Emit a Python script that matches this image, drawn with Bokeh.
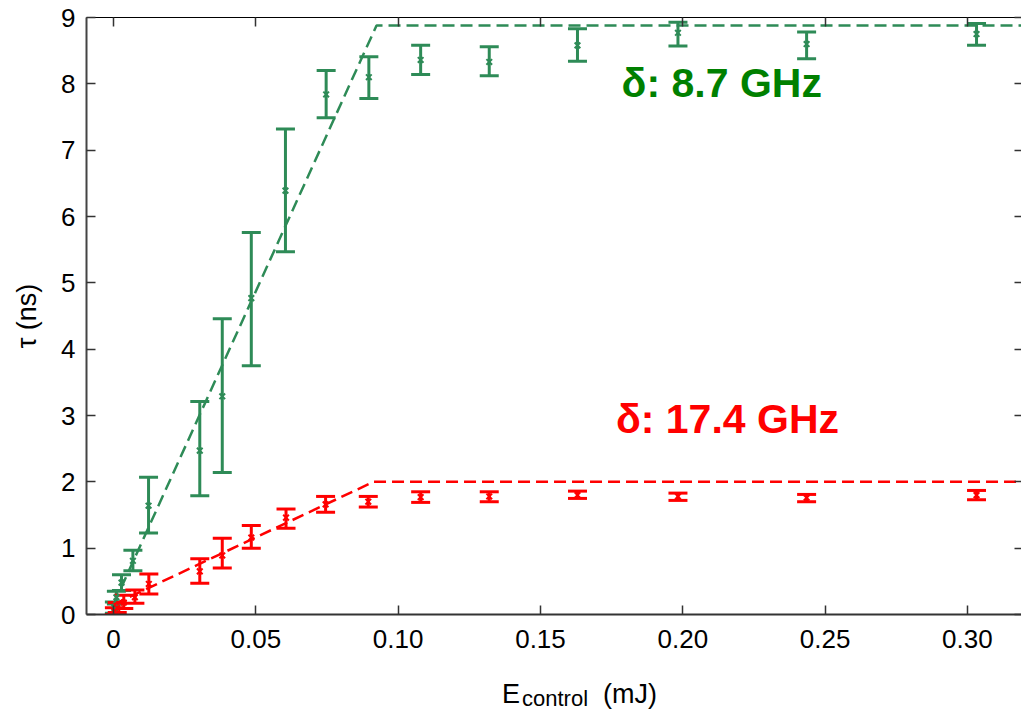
from bokeh.plotting import figure
from bokeh.models import (ColumnDataSource, Whisker, TeeHead, LinearAxis, FixedTicker,
                          Range1d, Label, Div)
from bokeh.layouts import column
from bokeh.embed import file_html
from bokeh.resources import INLINE

# ---- data ----
green_x = [0.0003, 0.0010, 0.0028, 0.0068, 0.0123, 0.0303, 0.0382, 0.0484, 0.0604,
           0.0747, 0.0897, 0.1079, 0.1320, 0.1630, 0.1983, 0.2435, 0.3032]
green_y = [0.10, 0.26, 0.48, 0.81, 1.64, 2.47, 3.29, 4.77, 6.39,
           7.84, 8.10, 8.36, 8.33, 8.58, 8.77, 8.60, 8.75]
green_lo = [0.02, 0.16, 0.36, 0.66, 1.23, 1.79, 2.14, 3.75, 5.47,
            7.49, 7.78, 8.14, 8.12, 8.34, 8.57, 8.38, 8.58]
green_hi = [0.19, 0.35, 0.60, 0.97, 2.07, 3.21, 4.46, 5.76, 7.32,
            8.20, 8.41, 8.58, 8.56, 8.83, 8.93, 8.78, 8.91]

red_x = [0.0003, 0.0013, 0.0036, 0.0075, 0.0124, 0.0303, 0.0382, 0.0484, 0.0606,
         0.0745, 0.0895, 0.1079, 0.1320, 0.1630, 0.1983, 0.2435, 0.3032]
red_y = [0.05, 0.10, 0.18, 0.26, 0.46, 0.65, 0.89, 1.16, 1.46,
         1.66, 1.70, 1.77, 1.78, 1.80, 1.78, 1.76, 1.80]
red_lo = [0.00, 0.03, 0.09, 0.17, 0.31, 0.47, 0.70, 1.00, 1.30,
          1.54, 1.62, 1.69, 1.70, 1.75, 1.72, 1.70, 1.73]
red_hi = [0.10, 0.18, 0.29, 0.37, 0.61, 0.84, 1.15, 1.34, 1.59,
          1.78, 1.78, 1.85, 1.85, 1.86, 1.83, 1.81, 1.87]

green_fit_x = [0.0, 0.0924, 0.32]
green_fit_y = [0.15, 8.88, 8.88]
red_fit_x = [0.0, 0.0913, 0.32]
red_fit_y = [0.15, 2.00, 2.00]

x_ticks = [0, 0.05, 0.10, 0.15, 0.20, 0.25, 0.30]
x_tick_labels = ["0", "0.05", "0.10", "0.15", "0.20", "0.25", "0.30"]
y_ticks = [0, 1, 2, 3, 4, 5, 6, 7, 8, 9]

label_green = "δ: 8.7 GHz"
label_red = "δ: 17.4 GHz"
x_label_main = "E"
x_label_sub = "control"
x_label_unit = "(mJ)"

GREEN = "#2e8b57"
RED = "#ff0000"
TICK_FONT = "Liberation Sans Narrow, Liberation Sans, Arial, sans-serif"
FONT = "Liberation Sans, Arial, sans-serif"

p = figure(frame_width=935, frame_height=597, output_backend="svg", toolbar_location=None,
           x_range=Range1d(-0.0095, 0.319), y_range=Range1d(0, 9),
           x_axis_location=None, y_axis_location=None,
           min_border_left=86, min_border_right=0, min_border_top=17, min_border_bottom=50)
p.outline_line_color = None
p.xgrid.visible = False
p.ygrid.visible = False
p.background_fill_color = "white"
p.border_fill_color = "white"


def style_axis(ax, line_color, line_width):
    ax.axis_line_color = line_color
    ax.axis_line_width = line_width
    ax.major_tick_in = 9
    ax.major_tick_out = 0
    ax.major_tick_line_color = "#333333"
    ax.major_tick_line_width = 1.5
    ax.minor_tick_line_color = None
    ax.major_label_text_font = TICK_FONT
    ax.major_label_text_font_size = "26px"
    ax.major_label_text_color = "black"


xlab = {t: l for t, l in zip(x_ticks, x_tick_labels)}

bottom = LinearAxis(ticker=FixedTicker(ticks=x_ticks), major_label_overrides=xlab)
style_axis(bottom, "#333333", 2)
bottom.major_label_standoff = 15
p.add_layout(bottom, "below")

top = LinearAxis(ticker=FixedTicker(ticks=x_ticks),
                 major_label_overrides={t: "" for t in x_ticks})
style_axis(top, "black", 1.2)
top.major_label_standoff = 0
p.add_layout(top, "above")

left = LinearAxis(ticker=FixedTicker(ticks=y_ticks), axis_label="τ (ns)")
style_axis(left, "#444444", 2)
left.major_label_standoff = 11
left.axis_label_text_font = FONT
left.axis_label_text_font_size = "27px"
left.axis_label_text_font_style = "normal"
left.axis_label_text_color = "black"
left.axis_label_standoff = 16
p.add_layout(left, "left")

right = LinearAxis(ticker=FixedTicker(ticks=y_ticks),
                   major_label_overrides={t: "" for t in y_ticks})
style_axis(right, None, 1)
right.major_tick_in = 7
right.major_label_standoff = 0
p.add_layout(right, "right")

# fit lines
p.line(green_fit_x, green_fit_y, line_color=GREEN, line_width=2.5, line_dash="12 6")
p.line(red_fit_x, red_fit_y, line_color=RED, line_width=2.5, line_dash="12 6")

for xs, ys, lo, hi, col in [(green_x, green_y, green_lo, green_hi, GREEN),
                            (red_x, red_y, red_lo, red_hi, RED)]:
    src = ColumnDataSource(dict(x=xs, y=ys, lo=lo, hi=hi))
    w = Whisker(base="x", lower="lo", upper="hi", source=src, dimension="height",
                line_color=col, line_width=3,
                upper_head=TeeHead(size=19, line_color=col, line_width=3),
                lower_head=TeeHead(size=19, line_color=col, line_width=3))
    p.add_layout(w)
    p.scatter("x", "y", source=src, marker="x", size=8, line_width=2, line_color=col)

p.add_layout(Label(x=0.1785, y=7.67, text=label_green, text_font=FONT,
                   text_font_size="41px", text_font_style="bold", text_color="#008000"))
p.add_layout(Label(x=0.1765, y=2.60, text=label_red, text_font=FONT,
                   text_font_size="41px", text_font_style="bold", text_color=RED))

# x-axis label with subscript (HTML text)
xlabel_html = (
    '<div style="font-family:\'Liberation Sans\',Arial,sans-serif;font-size:27px;'
    'line-height:31px;color:black;white-space:nowrap">'
    + x_label_main
    + '<span style="font-size:22px;position:relative;top:3px;margin-left:2px">'
    + x_label_sub + '</span>&nbsp;&nbsp;' + x_label_unit + '</div>'
)
xlabel = Div(text=xlabel_html, width=300, height=34, margin=(15, 0, 0, 502))

layout = column(p, xlabel, spacing=0)
open("out.html", "w").write(file_html(layout, INLINE))
